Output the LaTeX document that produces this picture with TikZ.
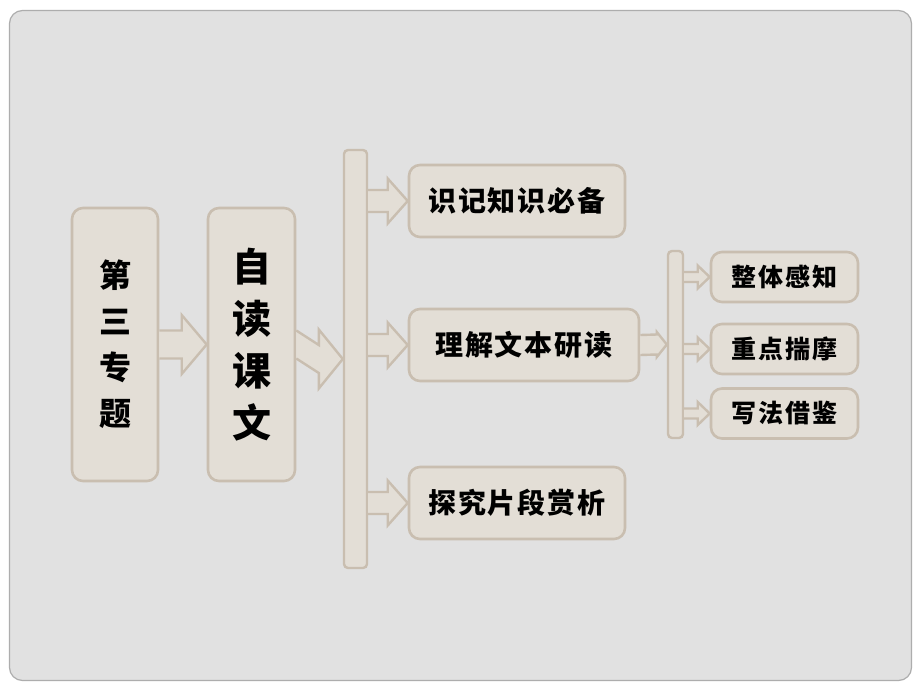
\documentclass[tikz,border=0pt]{standalone}
\usepackage{fontspec}
\newfontfamily\cjk{Noto Sans CJK SC}
\newfontfamily\cjkwide[LetterSpace=7]{Noto Sans CJK SC}
\usepackage{xcolor}
\usepackage{tikz}
\usetikzlibrary{calc}
\definecolor{PageGray}{HTML}{E1E1E1}
\definecolor{FrameGray}{HTML}{ADADAD}
\definecolor{BoxFill}{HTML}{E3DED6}
\definecolor{BoxLine}{HTML}{C9BEB0}
\tikzset{
	box/.style={draw=BoxLine, fill=BoxFill, line width=2.6pt, rounded corners=11pt, inner sep=0pt, align=center},
	bar/.style={draw=BoxLine, fill=BoxFill, line width=2.4pt, rounded corners=4pt, inner sep=0pt},
	arrowbox/.style={draw=BoxLine, fill=BoxFill, line width=2.4pt, line join=miter}
}
% block arrow: #1 start, #2 tip, #3 shaft half, #4 head half, #5 head length
\providecommand{\BlockArrow}[5]{%
	\fill[BoxFill] ($ (#1)+(0,-#3) $) -- ($ (#2)+(-#5,-#3) $) -- ($ (#2)+(-#5,-#4) $) -- (#2) -- ($ (#2)+(-#5,#4) $) -- ($ (#2)+(-#5,#3) $) -- ($ (#1)+(0,#3) $) -- cycle;
	\draw[arrowbox] ($ (#1)+(0,-#3) $) -- ($ (#2)+(-#5,-#3) $) -- ($ (#2)+(-#5,-#4) $) -- (#2) -- ($ (#2)+(-#5,#4) $) -- ($ (#2)+(-#5,#3) $) -- ($ (#1)+(0,#3) $);
}
\begin{document}
\begin{tikzpicture}[x=1pt, y=-1pt]

	\fill[white] (0,0) rectangle (920,690);
	\filldraw[fill=PageGray, draw=FrameGray, line width=1.2pt, rounded corners=13pt] (9.5,10.5) rectangle (911.5,680.5);

	% first level
	\node[box, minimum width=86pt, minimum height=273pt, font=\cjk\bfseries\fontsize{32}{46}\selectfont] (topic) at (115,344.5) {第\\三\\专\\题};
	\node[box, minimum width=87pt, minimum height=273pt, font=\cjk\bfseries\fontsize{39}{52}\selectfont] (read) at (251.5,344.5) {自\\读\\课\\文};
	\node[bar, minimum width=23pt, minimum height=418pt] (bar1) at (355.5,359) {};

	% second level
	\node[box, minimum width=216pt, minimum height=72pt, font=\cjkwide\bfseries\fontsize{28}{30}\selectfont] (know) at (517,201) {识记知识必备};
	\node[box, minimum width=230pt, minimum height=72pt, font=\cjkwide\bfseries\fontsize{28}{30}\selectfont] (study) at (524,345) {理解文本研读};
	\node[box, minimum width=216pt, minimum height=72pt, font=\cjkwide\bfseries\fontsize{28}{30}\selectfont] (explore) at (517,503) {探究片段赏析};
	\node[bar, minimum width=15pt, minimum height=187pt] (bar2) at (675.5,344.5) {};

	% third level
	\node[box, minimum width=147pt, minimum height=50pt, font=\cjkwide\bfseries\fontsize{25}{27}\selectfont] (whole) at (784.5,277) {整体感知};
	\node[box, minimum width=147pt, minimum height=50pt, font=\cjkwide\bfseries\fontsize{25}{27}\selectfont] (focus) at (784.5,349) {重点揣摩};
	\node[box, minimum width=147pt, minimum height=50pt, font=\cjkwide\bfseries\fontsize{25}{27}\selectfont] (craft) at (784.5,413.5) {写法借鉴};

	\BlockArrow{topic.east}{read.west}{14}{29.5}{25}
	\BlockArrow{read.east}{bar1.west}{14}{29.5}{24}

	\BlockArrow{bar1.east |- know.west}{know.west}{11}{22.5}{20}
	\BlockArrow{bar1.east |- study.west}{study.west}{11}{22.5}{20}
	\BlockArrow{bar1.east |- explore.west}{explore.west}{11}{22.5}{20}

	\BlockArrow{study.east}{bar2.west}{10}{12.5}{10}
	\BlockArrow{bar2.east |- whole.west}{whole.west}{5}{11.5}{12}
	\BlockArrow{bar2.east |- focus.west}{focus.west}{5}{11.5}{12}
	\BlockArrow{bar2.east |- craft.west}{craft.west}{5}{11.5}{12}

	\useasboundingbox (0,0) rectangle (920,690);

\end{tikzpicture}
\end{document}
